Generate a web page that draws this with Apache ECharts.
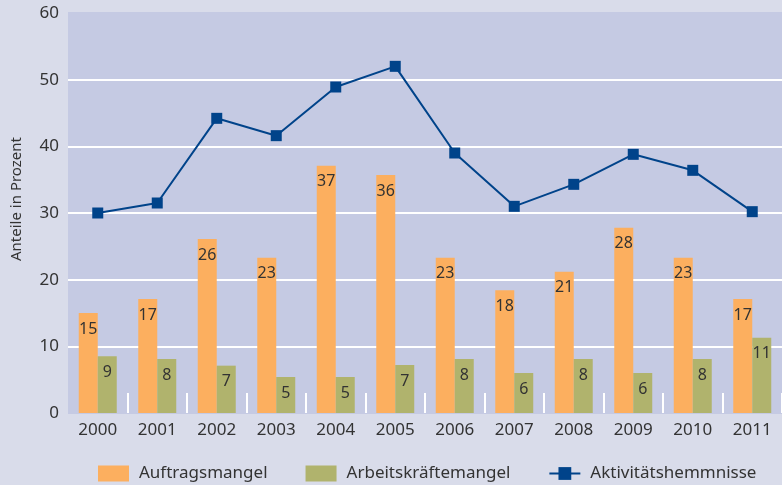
<!DOCTYPE html>
<html>
<head>
<meta charset="utf-8">
<script src="https://cdn.jsdelivr.net/npm/echarts@6/dist/echarts.min.js"></script>
<style>
  html, body { margin: 0; padding: 0; background: #d9dcea; }
  #chart { width: 782px; height: 485px; }
</style>
</head>
<body>
<div id="chart"></div>
<script>
// Jahre auf der x-Achse
const years = ['2000', '2001', '2002', '2003', '2004', '2005', '2006', '2007', '2008', '2009', '2010', '2011']
// Werte
const auftragsmangel = [15, 17.1, 26.1, 23.3, 37.1, 35.7, 23.3, 18.4, 21.2, 27.8, 23.3, 17.1]
const arbeitskraeftemangel = [8.5, 8.1, 7.1, 5.4, 5.4, 7.2, 8.1, 6.0, 8.1, 6.0, 8.1, 11.3]
const aktivitaetshemmnisse = [30, 31.5, 44.2, 41.6, 48.9, 52, 39, 31, 34.3, 38.8, 36.4, 30.2]
const yTicks = [0, 10, 20, 30, 40, 50, 60]

const font = 'Noto Sans'
const chart = echarts.init(document.getElementById('chart'))

// Beschriftung in den Balken (gerundet)
const barLabel = {
    show: true,
    position: 'insideTop',
    distance: 8,
    color: '#333',
    fontSize: 16,
    fontFamily: font,
    formatter: p => Math.round(p.value)
}

const option = {
    backgroundColor: '#d9dcea',
    animation: false,
    grid: {
        left: 68, right: 0, top: 13, bottom: 72,
        outerBoundsMode: 'none',
        containLabel: false,
        show: true,
        backgroundColor: '#c5cae3',
        borderWidth: 0
    },
    legend: {
        left: 98,
        top: 465,
        padding: 0,
        itemWidth: 31,
        itemHeight: 16,
        itemGap: 38,
        textStyle: { color: '#333', fontSize: 17, lineHeight: 16, fontFamily: font, padding: [0, 0, 0, 5] },
        data: [
            { name: 'Auftragsmangel', icon: 'rect' },
            { name: 'Arbeitskräftemangel', icon: 'rect' },
            { name: 'Aktivitätshemmnisse' }
        ]
    },
    xAxis: {
        type: 'category',
        data: years,
        axisLine: { show: false },
        axisTick: {
            show: true,
            inside: true,
            length: 20,
            interval: (index) => index > 0,
            lineStyle: { color: '#ffffff', width: 2 }
        },
        axisLabel: { color: '#333', fontSize: 17, fontFamily: font, margin: 9 }
    },
    yAxis: {
        type: 'value',
        min: yTicks[0],
        max: yTicks[yTicks.length - 1],
        interval: 10,
        name: 'Anteile in Prozent',
        nameLocation: 'middle',
        nameGap: 44,
        // etwas nach oben versetzt wie im Original
        nameTextStyle: { color: '#333', fontSize: 15, fontFamily: font, padding: [0, 0, 0, 28] },
        axisLine: { show: false },
        axisTick: { show: false },
        axisLabel: { color: '#333', fontSize: 17, fontFamily: font, margin: 9 },
        splitLine: {
            lineStyle: {
                // keine weiße Linie bei 0 und 60
                color: yTicks.map((v, i) => (i === 0 || i === yTicks.length - 1) ? '#c5cae3' : '#ffffff'),
                width: 2
            }
        }
    },
    series: [
        {
            name: 'Auftragsmangel',
            type: 'bar',
            data: auftragsmangel,
            barWidth: 19,
            barGap: '0%',
            itemStyle: { color: '#fcaf5f' },
            label: barLabel
        },
        {
            name: 'Arbeitskräftemangel',
            type: 'bar',
            data: arbeitskraeftemangel,
            barWidth: 19,
            barGap: '0%',
            itemStyle: { color: '#b0b36d' },
            label: barLabel
        },
        {
            name: 'Aktivitätshemmnisse',
            type: 'line',
            data: aktivitaetshemmnisse,
            symbol: 'rect',
            symbolSize: 11,
            lineStyle: { color: '#00438a', width: 2 },
            itemStyle: { color: '#00438a' }
        }
    ]
}

chart.setOption(option)

window.addEventListener('resize', () => {
    chart.resize()
})
</script>
</body>
</html>
